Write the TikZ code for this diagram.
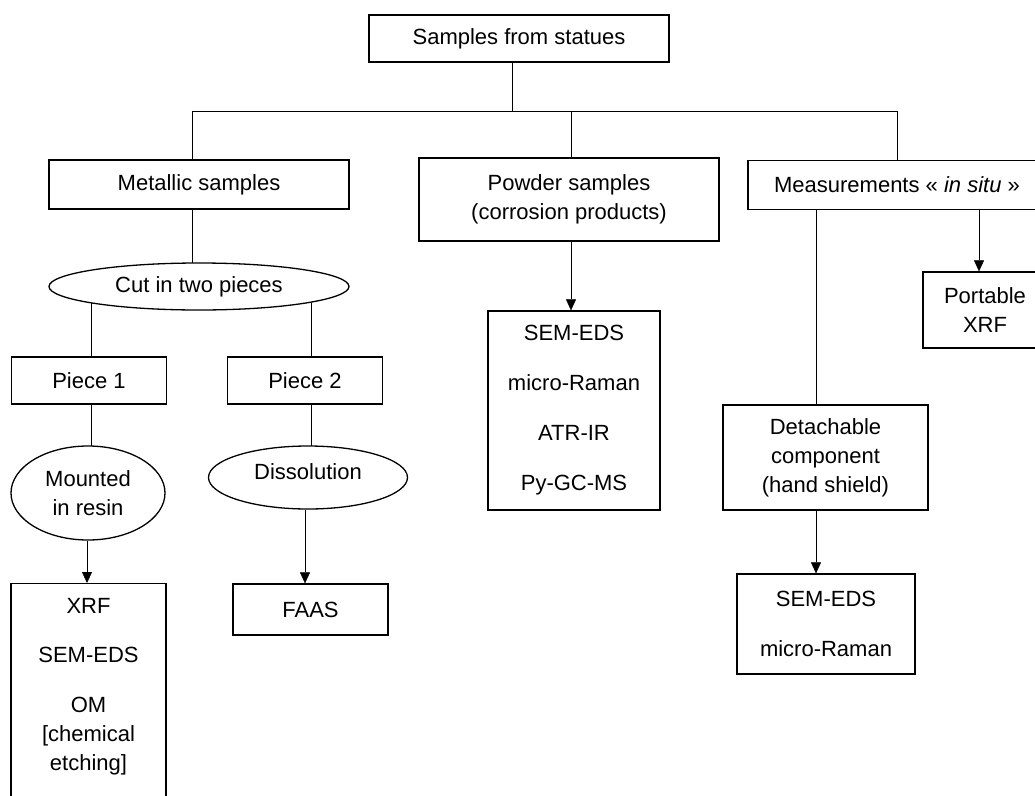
\documentclass[tikz,border=0pt]{standalone}
\usepackage{fontspec}
\setmainfont{Liberation Sans}
\usetikzlibrary{shapes.geometric,arrows.meta,backgrounds}
\begin{document}
\begin{tikzpicture}[x=1pt,y=-1pt,line width=1.3pt,
    every node/.style={font=\fontsize{22}{29}\selectfont},
    box/.style={draw,fill=white,rectangle,inner sep=0pt,align=center},
    oval/.style={draw,fill=white,ellipse,inner sep=0pt,align=center},
    arr/.style={-{Triangle[width=10pt,length=11pt]}}]
  \useasboundingbox (0,0) rectangle (1035,795);
  \clip (0,0) rectangle (1035,795);
  \node[box,minimum width=300pt,minimum height=47pt] (top) at (519,38.5) {Samples from statues};
  \node[box,minimum width=300pt,minimum height=49pt] (met) at (199,184.5) {Metallic samples};
  \node[box,minimum width=300pt,minimum height=83pt] (pow) at (569,199.5) {Powder samples\\(corrosion products)};
  \node[box,minimum width=298pt,minimum height=49pt] (meas) at (897,185) {Measurements « \textit{in situ} »};
  \node[oval,minimum width=300pt,minimum height=47pt] (cut) at (199,286.5) {Cut in two pieces};
  \node[box,minimum width=155pt,minimum height=47pt] (p1) at (89,380.5) {Piece 1};
  \node[box,minimum width=155pt,minimum height=47pt] (p2) at (305,380.5) {Piece 2};
  \node[oval,minimum width=154pt,minimum height=94pt] (mr) at (88,493) {Mounted\\in resin};
  \node[oval,minimum width=199pt,minimum height=63pt,text depth=12pt] (diss) at (308,477.5) {Dissolution};
  \node[box,anchor=north,minimum width=155pt,minimum height=240pt,text depth=39pt] (res) at (88.5,583)
    {XRF\\[20pt]SEM-EDS\\[21pt]OM\\{}[chemical\\etching]};
  \node[box,minimum width=155pt,minimum height=51pt] (faas) at (310.5,609.5) {FAAS};
  \node[box,minimum width=172pt,minimum height=199pt] (meth) at (574,410.5)
    {SEM-EDS\\[21pt]micro-Raman\\[21pt]ATR-IR\\[21pt]Py-GC-MS};
  \node[box,minimum width=124pt,minimum height=76pt] (port) at (985,310) {Portable\\XRF};
  \node[box,minimum width=205pt,minimum height=105pt] (det) at (825.5,457.5) {Detachable\\component\\(hand shield)};
  \node[box,minimum width=178pt,minimum height=100pt] (sem) at (826,624) {SEM-EDS\\[21pt]micro-Raman};
  % x of each vertical line, y of the bar
  \coordinate (xTop) at (512,0);
  \coordinate (xMet) at (192,0);
  \coordinate (xPow) at (571,0);
  \coordinate (xMeas) at (897,0);
  \coordinate (xP1) at (91,0);
  \coordinate (xP2) at (311,0);
  \coordinate (xMr) at (87,0);
  \coordinate (xDs) at (305,0);
  \coordinate (xDet) at (816,0);
  \coordinate (xPort) at (979,0);
  \coordinate (yBar) at (0,111);
  \begin{scope}[on background layer]
    \draw (xTop |- top.south) -- (xTop |- yBar);
    \draw (xMet |- yBar) -- (xMeas |- yBar);
    \draw (xMet |- yBar) -- (xMet |- met.north);
    \draw (xPow |- yBar) -- (xPow |- pow.north);
    \draw (xMeas |- yBar) -- (xMeas |- meas.north);
    \draw (xMet |- met.south) -- (xMet |- cut.center);
    \draw (xP1 |- cut.center) -- (xP1 |- p1.north);
    \draw (xP2 |- cut.center) -- (xP2 |- p2.north);
    \draw (xP1 |- p1.south) -- (xP1 |- mr.center);
    \draw (xP2 |- p2.south) -- (xP2 |- diss.center);
    \draw[arr] (xMr |- mr.south) -- (xMr |- res.north);
    \draw[arr] (xDs |- diss.south) -- (xDs |- faas.north);
    \draw[arr] (xPow |- pow.south) -- (xPow |- meth.north);
    \draw (xDet |- meas.south) -- (xDet |- det.north);
    \draw[arr] (xPort |- meas.south) -- (xPort |- port.north);
    \draw[arr] (xDet |- det.south) -- (xDet |- sem.north);
  \end{scope}
\end{tikzpicture}
\end{document}
